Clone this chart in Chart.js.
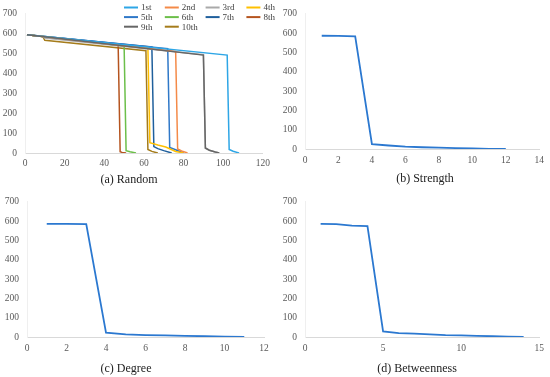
<!DOCTYPE html>
<html>
<head>
<meta charset="utf-8">
<script src="https://cdn.jsdelivr.net/npm/chart.js@4.4.1/dist/chart.umd.min.js"></script>
<style>
  html, body { margin: 0; padding: 0; background: #fff; }
  body { width: 550px; height: 377px; position: relative; overflow: hidden; }
  .panel { position: absolute; }
  .cap {
    position: absolute; font-family: "Liberation Serif", "Times New Roman", serif;
    font-size: 12px; color: #222; white-space: nowrap; transform: translate(-50%, -50%);
  }
</style>
</head>
<body>
<div class="panel" style="left:0;top:0;width:275px;height:190px"><canvas id="chartA"></canvas></div>
<div class="panel" style="left:275px;top:0;width:275px;height:190px"><canvas id="chartB"></canvas></div>
<div class="panel" style="left:0;top:188px;width:275px;height:189px"><canvas id="chartC"></canvas></div>
<div class="panel" style="left:275px;top:188px;width:275px;height:189px"><canvas id="chartD"></canvas></div>
<div class="cap" style="left:129px;top:179px">(a) Random</div>
<div class="cap" style="left:425px;top:178px">(b) Strength</div>
<div class="cap" style="left:126px;top:368px">(c) Degree</div>
<div class="cap" style="left:417px;top:368px">(d) Betweenness</div>
<script>
// (a) Random removal, 10 runs
const runLabels = ['1st', '2nd', '3rd', '4th', '5th', '6th', '7th', '8th', '9th', '10th'];
const r1X = [1, 102, 103, 105, 107, 108];
const r1Y = [594, 492, 18, 9, 3, 0];
const r2X = [1, 76, 77, 79, 82];
const r2Y = [594, 510, 20, 10, 0];
const r3X = [1, 9, 10, 90, 91, 93, 96, 98];
const r3Y = [594, 586, 578, 494, 24, 14, 5, 0];
const r4X = [1, 62, 63, 67, 71, 76, 80];
const r4Y = [594, 528, 52, 40, 30, 8, 0];
const r5X = [1, 72, 73, 76, 80];
const r5Y = [594, 524, 28, 16, 0];
const r6X = [1, 50, 51, 53, 56];
const r6Y = [594, 538, 12, 6, 0];
const r7X = [1, 64, 65, 67, 70, 74];
const r7Y = [594, 533, 32, 22, 12, 0];
const r8X = [1, 47, 48, 49, 51];
const r8Y = [594, 542, 6, 3, 0];
const r9X = [1, 90, 91, 93, 96, 98];
const r9Y = [594, 492, 25, 14, 5, 0];
const r10X = [1, 9, 10, 61, 62, 64, 67];
const r10Y = [594, 585, 566, 514, 18, 8, 0];

// (b) Strength
const strengthX = [1, 2, 3, 4, 5, 6, 7, 8, 9, 10, 11, 12];
const strengthY = [586, 585, 583, 25, 18, 12, 9, 7, 5, 3, 1, 0];
// (c) Degree
const degreeX = [1, 2, 3, 4, 5, 6, 7, 8, 9, 10, 11];
const degreeY = [585, 585, 584, 22, 14, 10, 8, 6, 4, 2, 0];
// (d) Betweenness
const betweenX = [1, 2, 3, 4, 5, 6, 7, 8, 9, 10, 11, 12, 13, 14];
const betweenY = [585, 584, 576, 574, 29, 20, 17, 14, 10, 8, 6, 4, 2, 0];

const yTicks = [0, 100, 200, 300, 400, 500, 600, 700];

const runColors = ['#2ea6e6', '#f48a48', '#a9a9a9', '#ffc000', '#2f78c8',
                   '#6cbf4a', '#1f5f9c', '#b5541f', '#666666', '#a57c1b'];
const mainBlue = '#2b78d0';
const tickColor = '#595959';
const fontFamily = '"Liberation Serif", "Times New Roman", serif';

function toPoints(xs, ys) {
    return xs.map((x, i) => ({ x: x, y: ys[i] }));
}

// legend laid out as a 4-column grid inside the plot
const gridLegend = {
    id: 'gridLegend',
    afterDraw(chart, args, opts) {
        if (!opts || !opts.display) return;
        const ctx = chart.ctx;
        ctx.save();
        ctx.font = opts.font;
        ctx.textBaseline = 'middle';
        ctx.textAlign = 'left';
        chart.data.datasets.forEach((ds, i) => {
            const col = i % opts.cols;
            const row = Math.floor(i / opts.cols);
            const x = opts.x + col * opts.colW;
            const y = opts.y + row * opts.rowH;
            ctx.strokeStyle = ds.borderColor;
            ctx.lineWidth = 2;
            ctx.beginPath();
            ctx.moveTo(x, y);
            ctx.lineTo(x + opts.lineLen, y);
            ctx.stroke();
            ctx.fillStyle = '#404040';
            ctx.fillText(ds.label, x + opts.lineLen + 3, y + 0.5);
        });
        ctx.restore();
    }
};

function makeChart(id, box, datasets, xMax, xStep, legendOpts) {
    const W = 275;
    const H = box.h;
    const xAxisH = 20;
    return new Chart(document.getElementById(id).getContext('2d'), {
        type: 'line',
        data: { datasets: datasets },
        plugins: [gridLegend],
        options: {
            responsive: true,
            maintainAspectRatio: false,
            animation: false,
            layout: {
                autoPadding: false,
                padding: { left: 0, top: box.top, right: W - box.right, bottom: H - box.bottom - xAxisH }
            },
            elements: {
                point: { radius: 0 },
                line: { tension: 0, fill: false }
            },
            plugins: {
                legend: { display: false },
                tooltip: { enabled: false },
                gridLegend: legendOpts || { display: false }
            },
            scales: {
                x: {
                    type: 'linear',
                    min: 0,
                    max: xMax,
                    afterFit: s => { s.height = xAxisH; },
                    grid: { display: false, drawTicks: false },
                    border: { display: true, color: '#d9d9d9', width: 1 },
                    ticks: {
                        stepSize: xStep,
                        padding: box.xPad,
                        color: tickColor,
                        font: { family: fontFamily, size: 9.5 },
                        maxRotation: 0
                    }
                },
                y: {
                    min: 0,
                    max: 700,
                    afterFit: s => { s.width = box.left; },
                    afterBuildTicks: s => { s.ticks = yTicks.map(v => ({ value: v })); },
                    grid: { display: false, drawTicks: false },
                    border: { display: true, color: '#efefef', width: 1 },
                    ticks: {
                        padding: 8,
                        color: tickColor,
                        font: { family: fontFamily, size: 9.5 }
                    }
                }
            }
        }
    });
}

const runX = [r1X, r2X, r3X, r4X, r5X, r6X, r7X, r8X, r9X, r10X];
const runY = [r1Y, r2Y, r3Y, r4Y, r5Y, r6Y, r7Y, r8Y, r9Y, r10Y];
const runSets = runLabels.map((lab, i) => ({
    label: lab,
    data: toPoints(runX[i], runY[i]),
    borderColor: runColors[i],
    borderWidth: 1.5,
    // keep the dark grey 9th run above the light grey 3rd
    order: i === 8 ? -1 : 0
}));

function single(xs, ys) {
    return [{ label: 'Nodes', data: toPoints(xs, ys), borderColor: mainBlue, borderWidth: 1.8 }];
}

makeChart('chartA', { h: 190, left: 25, right: 266, top: 9, bottom: 153, xPad: 5 }, runSets, 120, 20,
    { display: true, x: 124, y: 7.5, cols: 4, colW: 40.8, rowH: 9.6, lineLen: 14,
      font: '9px "Liberation Serif", "Times New Roman", serif' });
makeChart('chartB', { h: 190, left: 30, right: 266, top: 12, bottom: 149, xPad: 6 },
    single(strengthX, strengthY), 14, 2);
makeChart('chartC', { h: 189, left: 27, right: 264, top: 11, bottom: 149, xPad: 6 },
    single(degreeX, degreeY), 12, 2);
makeChart('chartD', { h: 189, left: 30, right: 266, top: 11, bottom: 149, xPad: 6 },
    single(betweenX, betweenY), 15, 5);
</script>
</body>
</html>
